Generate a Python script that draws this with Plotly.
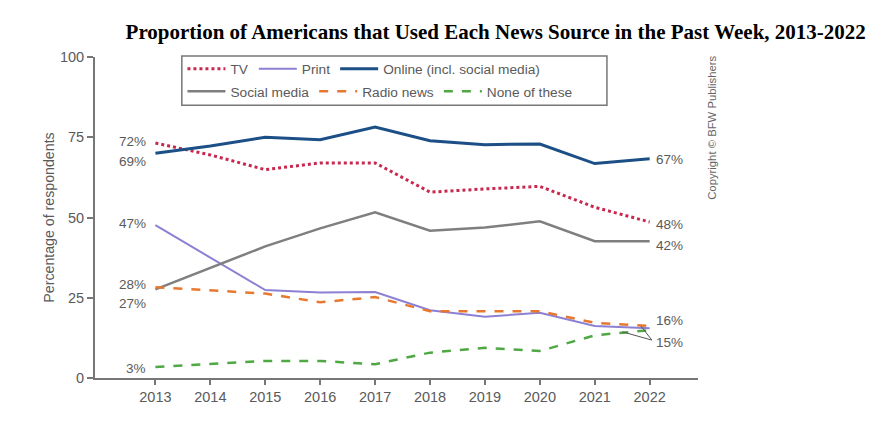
import plotly.graph_objects as go

years = list(range(2013, 2023))
tv = [73.2, 69.5, 64.9, 67.0, 67.0, 57.9, 58.9, 59.7, 53.2, 48.6]
print_ = [47.6, 37.5, 27.4, 26.6, 26.8, 21.1, 19.1, 20.3, 16.2, 15.5]
online = [70.0, 72.3, 75.0, 74.2, 78.2, 73.9, 72.7, 72.9, 66.8, 68.3]
social = [27.6, 34.2, 41.0, 46.6, 51.6, 45.9, 46.9, 48.8, 42.6, 42.6]
radio = [28.3, 27.3, 26.3, 23.6, 25.2, 20.8, 20.8, 20.8, 17.2, 16.2]
none = [3.4, 4.3, 5.3, 5.3, 4.3, 7.9, 9.4, 8.4, 13.3, 14.9]

left_labels = ["72%", "69%", "47%", "28%", "27%", "3%"]
left_label_y = [73.6, 67.4, 48.1, 29.1, 23.2, 3.0]
right_labels = ["67%", "48%", "42%", "16%", "15%"]
right_label_y = [68.0, 47.7, 41.3, 18.0, 11.1]

gray = "#5a5a5a"
font = "Liberation Sans, Arial, sans-serif"

fig = go.Figure()
fig.add_trace(go.Scatter(x=years, y=tv, mode="lines", name="TV", legend="legend",
                         line=dict(color="#c8284e", width=3, dash="dot")))
fig.add_trace(go.Scatter(x=years, y=print_, mode="lines", name="Print", legend="legend",
                         line=dict(color="#8b80d4", width=2)))
fig.add_trace(go.Scatter(x=years, y=online, mode="lines", name="Online (incl. social media)", legend="legend",
                         line=dict(color="#1c4f86", width=3)))
fig.add_trace(go.Scatter(x=years, y=social, mode="lines", name="Social media", legend="legend2",
                         line=dict(color="#7f7f7f", width=2.5)))
fig.add_trace(go.Scatter(x=years, y=radio, mode="lines", name="Radio news", legend="legend2",
                         line=dict(color="#e8782f", width=2.5, dash="dash")))
fig.add_trace(go.Scatter(x=years, y=none, mode="lines", name="None of these", legend="legend2",
                         line=dict(color="#4fa843", width=2.5, dash="dash")))

for t, yv in zip(left_labels, left_label_y):
    fig.add_annotation(x=years[0], y=yv, text=t, showarrow=False, xanchor="right", xshift=-7,
                       font=dict(family=font, size=13.5, color=gray))
for t, yv in zip(right_labels, right_label_y):
    fig.add_annotation(x=years[-1], y=yv, text=t, showarrow=False, xanchor="left", xshift=4,
                       font=dict(family=font, size=13.5, color=gray))

# leader lines for the 15% label
for x0, y0 in [(2021.5, 14.4), (2021.84, 16.2)]:
    fig.add_shape(type="line", x0=2022.04, y0=11.8, x1=x0, y1=y0, xref="x", yref="y",
                  line=dict(color="#555555", width=1))

# legend frame
fig.add_shape(type="rect", xref="paper", yref="paper", x0=0.144, x1=0.849, y0=0.850, y1=1.003,
              line=dict(color="#777777", width=1.5), fillcolor="rgba(0,0,0,0)")

fig.add_annotation(text="Copyright © BFW Publishers", xref="paper", yref="paper", x=1.023, y=0.779,
                   xanchor="center", yanchor="middle", textangle=-90, showarrow=False,
                   font=dict(family=font, size=11.3, color="#666666"))

fig.update_layout(
    width=890, height=436,
    margin=dict(l=87, r=200, t=49, b=66),
    paper_bgcolor="white", plot_bgcolor="white",
    title=dict(text="<b>Proportion of Americans that Used Each News Source in the Past Week, 2013-2022</b>",
               x=0.548, xanchor="center", y=0.945, yanchor="middle",
               font=dict(family="Liberation Serif, Times New Roman, serif", size=21, color="black")),
    font=dict(family=font, color=gray, size=13),
    legend=dict(orientation="h", x=0.145, y=1.011, xanchor="left", yanchor="top",
                font=dict(family=font, size=13.7, color=gray), bgcolor="rgba(0,0,0,0)",
                tracegroupgap=0, itemwidth=38),
    legend2=dict(orientation="h", x=0.145, y=0.941, xanchor="left", yanchor="top",
                 font=dict(family=font, size=13.7, color=gray), bgcolor="rgba(0,0,0,0)",
                 tracegroupgap=0, itemwidth=38),
    xaxis=dict(range=[2011.9, 2022.88], tickvals=years, showgrid=False, zeroline=False,
               showline=True, linecolor="#777777", linewidth=2, ticks="outside", ticklen=5,
               tickcolor="#777777", tickwidth=1.5, tickfont=dict(size=14.5, color=gray)),
    yaxis=dict(range=[0, 100], tickvals=[0, 25, 50, 75, 100], showgrid=False, zeroline=False,
               showline=True, linecolor="#777777", linewidth=2, ticks="outside", ticklen=6,
               tickcolor="#777777", tickwidth=1.5, tickfont=dict(size=14.5, color=gray),
               title=dict(text="Percentage of respondents", font=dict(size=14.2, color=gray), standoff=2)),
)

fig.write_html("out.html")
